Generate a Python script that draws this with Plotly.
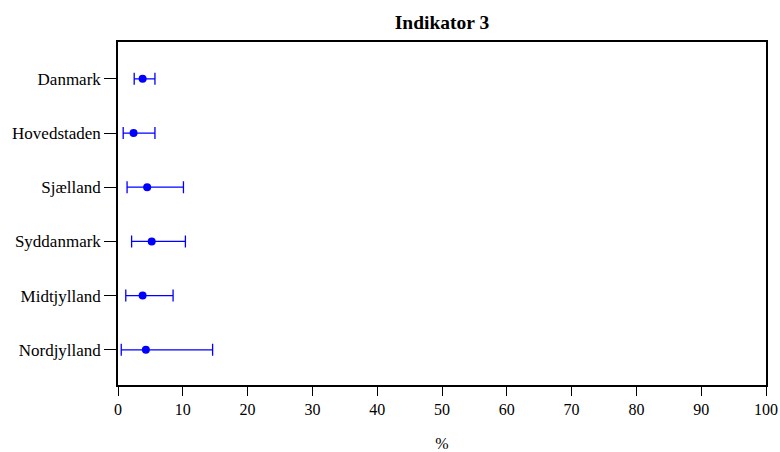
import plotly.graph_objects as go

# Regions and estimates (%), with 95% confidence limits
regions = ["Danmark", "Hovedstaden", "Sjælland", "Syddanmark", "Midtjylland", "Nordjylland"]
estimate = [3.8, 2.4, 4.5, 5.2, 3.8, 4.3]
lower = [2.5, 0.8, 1.4, 2.1, 1.2, 0.5]
upper = [5.7, 5.7, 10.1, 10.4, 8.5, 14.6]
x_ticks = [0, 10, 20, 30, 40, 50, 60, 70, 80, 90, 100]

err_plus = [u - e for u, e in zip(upper, estimate)]
err_minus = [e - l for e, l in zip(estimate, lower)]
positions = list(range(len(regions)))

FONT = "Liberation Serif, Times New Roman, serif"
BLUE = "#0000ff"

fig = go.Figure(
    go.Scatter(
        x=estimate,
        y=positions,
        mode="markers",
        marker=dict(color=BLUE, size=8),
        error_x=dict(
            type="data",
            symmetric=False,
            array=err_plus,
            arrayminus=err_minus,
            color=BLUE,
            thickness=1.3,
            width=6,
        ),
        showlegend=False,
    )
)

fig.update_layout(
    width=780,
    height=452,
    margin=dict(l=118, r=14, t=42, b=67, autoexpand=False),
    paper_bgcolor="white",
    plot_bgcolor="white",
    font=dict(family=FONT, size=17, color="black"),
    title=dict(
        text="<b>Indikator 3</b>",
        x=0.5,
        xref="paper",
        xanchor="center",
        y=1 - 22 / 452,
        yanchor="middle",
        font=dict(family=FONT, size=19.5, color="black"),
    ),
)

fig.update_xaxes(
    range=[0, 100],
    tickvals=x_ticks,
    ticktext=[str(v) for v in x_ticks],
    automargin=False,
    showgrid=False,
    zeroline=False,
    showline=True,
    linecolor="black",
    linewidth=1.5,
    mirror=True,
    ticks="outside",
    ticklen=9,
    tickwidth=1,
    tickcolor="black",
    tickfont=dict(size=16),
    title=dict(text="%", standoff=21, font=dict(family=FONT, size=16)),
)

fig.update_yaxes(
    range=[len(regions) - 1 + 0.65, -0.68],
    tickvals=positions,
    ticktext=regions,
    automargin=False,
    showgrid=False,
    zeroline=False,
    showline=True,
    linecolor="black",
    linewidth=1.5,
    mirror=True,
    ticks="outside",
    ticklen=12,
    tickwidth=1,
    tickcolor="black",
)

fig.write_html("out.html")
